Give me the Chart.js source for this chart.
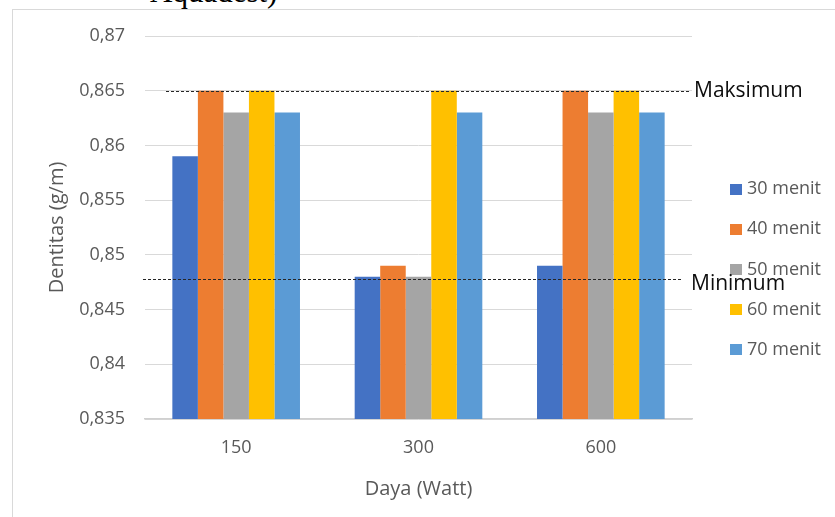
<!DOCTYPE html>
<html>
<head>
<meta charset="utf-8">
<script src="https://cdn.jsdelivr.net/npm/chart.js@4.4.1/dist/chart.umd.min.js"></script>
<style>
  html, body { margin: 0; padding: 0; background: #fff; overflow: hidden; }
  #caption { position: absolute; left: 150px; top: -24px; font: 31px/31px "Liberation Serif", serif; color: #000; white-space: nowrap; }
  #frame { position: absolute; left: 12px; top: 9px; width: 840px; height: 520px; border-left: 1px solid #d9d9d9; border-top: 1px solid #d9d9d9; }
  #wrap { position: absolute; left: 1px; top: 1px; width: 822px; height: 507px; }
</style>
</head>
<body>
<div id="caption">Aquadest)</div>
<div id="frame"><div id="wrap"><canvas id="chart"></canvas></div></div>
<script>
// categories (Daya, Watt)
const CATEGORIES = ['150', '300', '600'];
const SERIES_LABELS = ['30 menit', '40 menit', '50 menit', '60 menit', '70 menit'];
const SERIES_COLORS = ['#4472C4', '#ED7D31', '#A5A5A5', '#FFC000', '#5B9BD5'];

// densitas per waktu
const MENIT_30 = [0.859, 0.848, 0.849];
const MENIT_40 = [0.865, 0.849, 0.865];
const MENIT_50 = [0.863, 0.848, 0.863];
const MENIT_60 = [0.865, 0.865, 0.865];
const MENIT_70 = [0.863, 0.863, 0.863];

// reference limits
const MAKSIMUM = 0.865;
const MINIMUM = 0.8478;

const Y_MIN = 0.835;
const Y_MAX = 0.87;
const Y_STEP = 0.005;

const TEXT_GREY = '#595959';
const GRID_GREY = '#d9d9d9';

Chart.defaults.font.family = "'Open Sans', sans-serif";
Chart.defaults.color = TEXT_GREY;

const seriesValues = [MENIT_30, MENIT_40, MENIT_50, MENIT_60, MENIT_70];

function fmtComma(v) {
  return String(+v.toFixed(3)).replace('.', ',');
}

// dashed limit lines + their labels, plus the side legend
const limitsAndLegend = {
  id: 'limitsAndLegend',
  afterDatasetsDraw(chart) {
    const { ctx, chartArea, scales } = chart;
    const y = scales.y;
    ctx.save();
    ctx.strokeStyle = '#262626';
    ctx.lineWidth = 1;
    ctx.setLineDash([3, 2]);

    const yMax = Math.round(y.getPixelForValue(MAKSIMUM)) + 0.5;
    ctx.beginPath();
    ctx.moveTo(chartArea.left + 21, yMax);
    ctx.lineTo(chartArea.right - 1, yMax);
    ctx.stroke();

    const yMin = Math.round(y.getPixelForValue(MINIMUM)) + 0.5;
    ctx.beginPath();
    ctx.moveTo(chartArea.left - 2, yMin);
    ctx.lineTo(chartArea.right - 11, yMin);
    ctx.stroke();
    ctx.restore();
  },
  afterDraw(chart) {
    const { ctx, chartArea, scales } = chart;
    const y = scales.y;
    ctx.save();

    // legend
    ctx.font = "18px 'Open Sans', sans-serif";
    ctx.textBaseline = 'middle';
    ctx.textAlign = 'left';
    chart.data.datasets.forEach((ds, i) => {
      const cy = 178 + i * 40.2;
      ctx.fillStyle = ds.backgroundColor;
      ctx.fillRect(chartArea.right + 38, Math.round(cy - 5.5), 12, 11);
      ctx.fillStyle = TEXT_GREY;
      ctx.fillText(ds.label, chartArea.right + 55, cy);
    });

    // limit labels
    ctx.fillStyle = '#0d0d0d';
    ctx.font = "21px 'Open Sans', sans-serif";
    ctx.fillText('Maksimum', chartArea.right + 2, y.getPixelForValue(MAKSIMUM));
    ctx.fillText('Minimum', chartArea.right - 1, y.getPixelForValue(MINIMUM) + 5);
    ctx.restore();
  }
};

new Chart(document.getElementById('chart'), {
  type: 'bar',
  data: {
    labels: CATEGORIES,
    datasets: SERIES_LABELS.map((label, i) => ({
      label,
      data: seriesValues[i],
      backgroundColor: SERIES_COLORS[i],
      borderWidth: 0,
      categoryPercentage: 0.7,
      barPercentage: 1.0,
    })),
  },
  options: {
    responsive: true,
    maintainAspectRatio: false,
    animation: false,
    layout: { padding: { top: 25, right: 144, left: 0, bottom: 0 } },
    plugins: {
      legend: { display: false },
      tooltip: { enabled: false },
    },
    scales: {
      x: {
        grid: { display: false, drawTicks: false },
        border: { display: true, color: '#d0d0d0', width: 1.5 },
        ticks: { padding: 18, font: { size: 18 }, color: TEXT_GREY },
        title: {
          display: true,
          text: 'Daya (Watt)',
          font: { size: 20 },
          color: TEXT_GREY,
          padding: { top: 0, bottom: 17 },
        },
        afterFit(scale) { scale.height = 99; },
      },
      y: {
        min: Y_MIN,
        max: Y_MAX,
        grid: { color: GRID_GREY, lineWidth: 1, drawTicks: false },
        border: { display: false },
        ticks: {
          stepSize: Y_STEP,
          padding: 20,
          font: { size: 18 },
          color: TEXT_GREY,
          callback: (v) => fmtComma(v),
        },
        title: {
          display: true,
          text: 'Dentitas (g/m)',
          font: { size: 20 },
          color: TEXT_GREY,
          padding: { top: 31, bottom: 0 },
        },
        afterFit(scale) {
          scale.width = 131;
          scale.paddingTop = 0;
          scale.paddingBottom = 0;
        },
      },
    },
  },
  plugins: [limitsAndLegend],
});
</script>
</body>
</html>
